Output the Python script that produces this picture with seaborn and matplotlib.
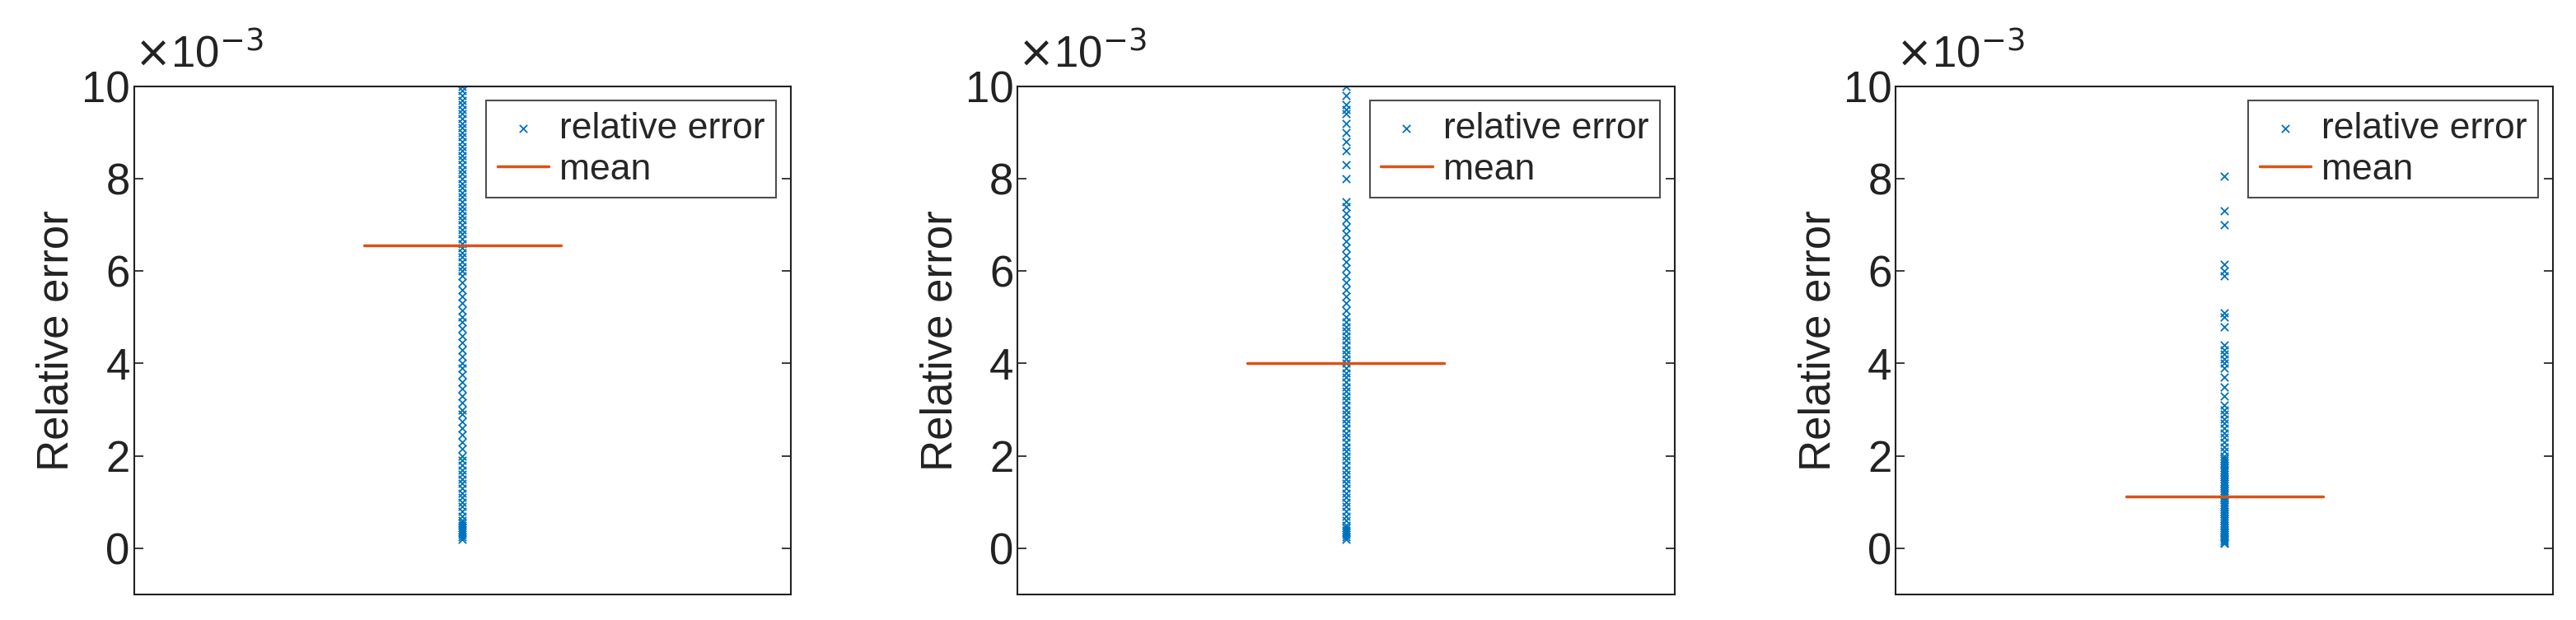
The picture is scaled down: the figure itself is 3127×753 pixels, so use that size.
import numpy as np
import pandas as pd
import seaborn as sns
import matplotlib.pyplot as plt

# relative errors, in units of 1e-3
err_a = [0.2, 0.25, 0.3, 0.35, 0.4, 0.45, 0.5, 0.55, 0.6, 0.7, 0.8, 0.9, 1.0, 1.1,
         1.2, 1.3, 1.4, 1.5, 1.6, 1.7, 1.8, 1.9, 2.0, 2.15, 2.3, 2.45, 2.6, 2.75,
         2.9, 3.0, 3.15, 3.3, 3.45, 3.6, 3.75, 3.9, 4.0, 4.15, 4.3, 4.45, 4.6, 4.75,
         4.9, 5.0, 5.15, 5.3, 5.45, 5.6, 5.75, 5.9, 6.0, 6.1, 6.2, 6.3, 6.4, 6.5,
         6.6, 6.7, 6.8, 6.9, 7.0, 7.1, 7.2, 7.3, 7.4, 7.5, 7.6, 7.7, 7.8, 7.9, 8.0,
         8.1, 8.2, 8.3, 8.4, 8.5, 8.6, 8.7, 8.8, 8.9, 9.0, 9.1, 9.2, 9.3, 9.4, 9.5,
         9.6, 9.7, 9.8, 9.9, 10.0, 10.5, 11.0, 12.0, 13.0, 14.0, 15.0]
err_b = [0.2, 0.25, 0.3, 0.35, 0.4, 0.45, 0.5, 0.6, 0.7, 0.8, 0.9, 1.0, 1.1, 1.2,
         1.3, 1.4, 1.5, 1.6, 1.7, 1.8, 1.9, 2.0, 2.1, 2.2, 2.3, 2.4, 2.5, 2.6, 2.7,
         2.8, 2.9, 3.0, 3.1, 3.2, 3.3, 3.4, 3.5, 3.6, 3.7, 3.8, 3.9, 4.0, 4.1, 4.2,
         4.3, 4.4, 4.5, 4.6, 4.7, 4.8, 4.9, 5.0, 5.15, 5.3, 5.45, 5.6, 5.75, 5.9,
         6.05, 6.2, 6.35, 6.5, 6.65, 6.8, 6.95, 7.1, 7.25, 7.4, 7.5, 8.0, 8.3, 8.6,
         8.8, 9.0, 9.2, 9.4, 9.5, 9.6, 9.8, 10.0]
err_c = [0.1, 0.13, 0.16, 0.2, 0.23, 0.26, 0.3, 0.33, 0.36, 0.4, 0.45, 0.5, 0.55,
         0.6, 0.65, 0.7, 0.75, 0.8, 0.85, 0.9, 0.95, 1.0, 1.05, 1.1, 1.15, 1.2, 1.25,
         1.3, 1.35, 1.4, 1.45, 1.5, 1.55, 1.6, 1.65, 1.7, 1.75, 1.8, 1.85, 1.9, 1.95,
         2.0, 2.1, 2.2, 2.3, 2.4, 2.5, 2.6, 2.7, 2.8, 2.9, 3.0, 3.1, 3.3, 3.5, 3.7,
         3.9, 4.0, 4.1, 4.2, 4.3, 4.4, 4.8, 5.0, 5.1, 5.9, 6.0, 6.15, 7.0, 7.3, 8.05]
errors = [err_a, err_b, err_c]
means = [6.55, 4.0, 1.12]

sns.set_theme(style="white")
plt.rcParams['font.family'] = ['Liberation Sans', 'DejaVu Sans']
blue, orange = "#0072BD", "#D95319"

fig = plt.figure(figsize=(31.27, 7.53), dpi=100)
lefts = [0.052, 0.395, 0.736]
for left, vals, m in zip(lefts, errors, means):
    ax = fig.add_axes([left, 0.041, 0.255, 0.82])
    df = pd.DataFrame({"x": 1.0, "err": vals})
    sns.scatterplot(data=df, x="x", y="err", marker="x", color=blue, s=45,
                    linewidth=1.3, ax=ax, label="relative error")
    sns.lineplot(x=[0.7, 1.3], y=[m, m], color=orange, lw=2.5,
                 ax=ax, label="mean")
    ax.set_xlim(0, 2)
    ax.set_ylim(-1, 10)
    ax.set_xticks([])
    ax.set_xlabel("")
    ax.set_yticks(np.arange(0, 11, 2))
    ax.tick_params(axis="y", labelsize=38, direction="in", length=8, right=True,
                   left=True, color="#222222", labelcolor="#222222")
    ax.set_ylabel("Relative error", fontsize=38, color="#222222")
    ax.text(0.0, 1.02, r"$\times$10$^{-3}$", transform=ax.transAxes, fontsize=38,
            ha="left", va="bottom", color="#222222")
    for sp in ax.spines.values():
        sp.set_color("#222222")
        sp.set_linewidth(1.5)
    leg = ax.legend(loc="upper right", fontsize=32, frameon=True, fancybox=False,
                    handlelength=1.4, handletextpad=0.3, borderpad=0.3,
                    labelspacing=0.2, borderaxespad=0.4, markerscale=1.0)
    leg.get_frame().set_edgecolor("#222222")
    leg.get_frame().set_linewidth(1.5)

fig.savefig("out.png", dpi=100)
